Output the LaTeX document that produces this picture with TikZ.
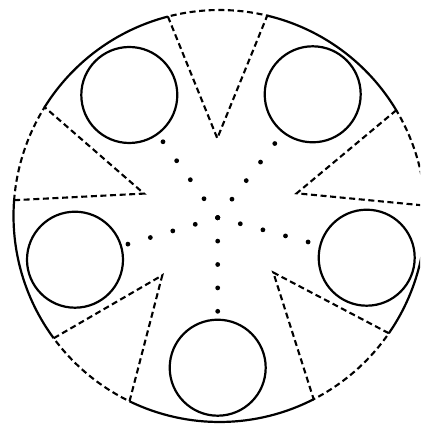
\documentclass[tikz,border=0pt]{standalone}
\begin{document}
\begin{tikzpicture}[x=1pt,y=1pt,
    hole/.style={draw,circle,minimum size=96pt,inner sep=0pt,line width=2.2pt},
    rim/.style={line width=2.2pt},
    cut/.style={line width=2.1pt,dash pattern=on 6pt off 3.6pt},
    beads/.style={line width=4.8pt,line cap=round,dash pattern=on 0pt off 23.4pt}]
    \clip (-219.5,-209) rectangle (200.5,216);
    % holes
    \node[hole] (hTL) at (-90.2,121) {};
    \node[hole] (hTR) at (93.2,121.7) {};
    \node[hole] (hL) at (-144.5,-43.7) {};
    \node[hole] (hR) at (147.2,-41.7) {};
    \node[hole] (hB) at (-1.8,-151.7) {};
    \coordinate (mid) at (-1.8,-1.7);
    % V cuts: tip and the two ends on the rim
    \coordinate (vT) at (-2.2,77.7);
    \coordinate (vT1) at (104.5:206);
    \coordinate (vT2) at (76.6:206);
    \coordinate (vUL) at (-75.5,22.4);
    \coordinate (vUL1) at (175.6:206);
    \coordinate (vUL2) at (148.1:206);
    \coordinate (vLL) at (-57.2,-59.3);
    \coordinate (vLL1) at (244.1:206);
    \coordinate (vLL2) at (216.4:206);
    \coordinate (vLR) at (53.8,-56.5);
    \coordinate (vLR1) at (325.3:206);
    \coordinate (vLR2) at (297.2:206);
    \coordinate (vUR) at (77.2,22.7);
    \coordinate (vUR1) at (30.9:206);
    \coordinate (vUR2) at (2.9:206);
    \draw[cut] (vT1) -- (vT) -- (vT2) arc[start angle=76.6,end angle=104.5,radius=206];
    \draw[cut] (vUL1) -- (vUL) -- (vUL2) arc[start angle=148.1,end angle=175.6,radius=206];
    \draw[cut] (vLL1) -- (vLL) -- (vLL2) arc[start angle=216.4,end angle=244.1,radius=206];
    \draw[cut] (vLR1) -- (vLR) -- (vLR2) arc[start angle=297.2,end angle=325.3,radius=206];
    \draw[cut] (vUR1) -- (vUR) -- (vUR2) arc[start angle=2.9,end angle=30.9,radius=206];
    % solid rim
    \draw[rim] (vT1) arc[start angle=104.5,end angle=148.1,radius=206];
    \draw[rim] (vUL1) arc[start angle=175.6,end angle=216.4,radius=206];
    \draw[rim] (vLL1) arc[start angle=244.1,end angle=297.2,radius=206];
    \draw[rim] (vLR1) arc[start angle=325.3,end angle=362.9,radius=206];
    \draw[rim] (vUR1) arc[start angle=30.9,end angle=76.6,radius=206];
    % dotted spokes
    \draw[beads] (mid) -- (hTL);
    \draw[beads] (mid) -- (hTR);
    \draw[beads] (mid) -- (hL);
    \draw[beads] (mid) -- (hR);
    \draw[beads] (mid) -- (hB);
\end{tikzpicture}
\end{document}
